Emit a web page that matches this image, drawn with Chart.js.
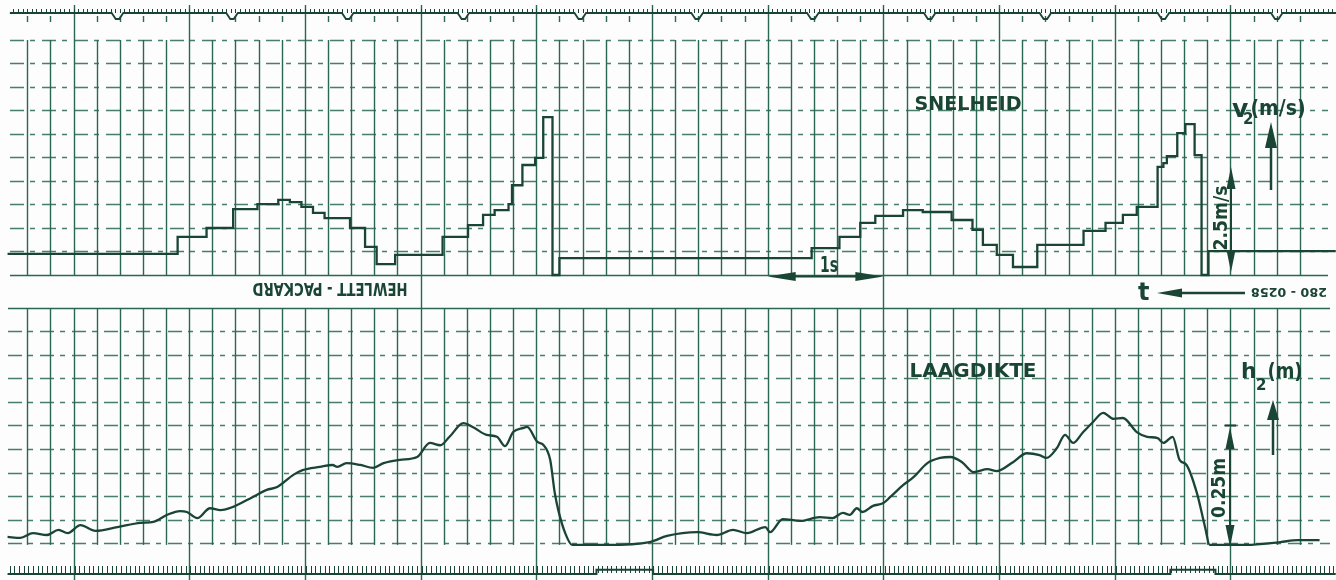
<!DOCTYPE html>
<html>
<head>
<meta charset="utf-8">
<title>Snelheid en laagdikte</title>
<script src="https://cdn.jsdelivr.net/npm/chart.js@4.4.1/dist/chart.umd.min.js"></script>
<style>
  html, body { margin: 0; padding: 0; background: #fcfdfc; }
  canvas { position: absolute; left: 0; }
  #speedChart { top: 0; }
  #depthChart { top: 300px; }
</style>
</head>
<body>
<canvas id="speedChart" width="1336" height="300"></canvas>
<canvas id="depthChart" width="1336" height="280"></canvas>
<script>
// time in seconds (1 major division = 1 s)
const speedTimes = [-0.57, 0.90, 1.15, 1.38, 1.59, 1.77, 1.87, 1.97, 2.07, 2.17,
  2.39, 2.52, 2.62, 2.78, 3.19, 3.41, 3.54, 3.64, 3.76, 3.79,
  3.88, 3.99, 4.06, 4.14, 4.20, 6.38, 6.62, 6.80, 6.93, 7.17,
  7.34, 7.59, 7.77, 7.86, 7.98, 8.12, 8.33, 8.73, 8.92, 9.07,
  9.19, 9.37, 9.42, 9.45, 9.54, 9.61, 9.69, 9.75, 9.81, 10.91];
// v2 in m/s
const speedValues = [0.45, 0.81, 1.00, 1.40, 1.51, 1.60, 1.55, 1.45, 1.32, 1.21,
  1.00, 0.60, 0.23, 0.43, 0.81, 1.06, 1.28, 1.38, 1.51, 1.91,
  2.34, 2.49, 3.36, 0.00, 0.36, 0.57, 0.81, 1.11, 1.26, 1.38,
  1.34, 1.17, 0.96, 0.64, 0.43, 0.17, 0.64, 0.94, 1.11, 1.28,
  1.45, 2.30, 2.38, 2.53, 3.02, 3.21, 2.55, 0.00, 0.51, 0.51];

const depthTimes = [-0.57, -0.46, -0.35, -0.23, -0.13, -0.05, 0.06, 0.19, 0.38, 0.58,
  0.69, 0.81, 0.92, 0.98, 1.07, 1.18, 1.27, 1.38, 1.55, 1.67,
  1.76, 1.90, 1.98, 2.13, 2.24, 2.28, 2.36, 2.48, 2.59, 2.68,
  2.82, 2.97, 3.08, 3.17, 3.25, 3.37, 3.45, 3.57, 3.66, 3.73,
  3.80, 3.89, 3.92, 4.01, 4.06, 4.12, 4.16, 4.19, 4.25, 4.31,
  4.61, 4.98, 5.13, 5.39, 5.56, 5.70, 5.82, 5.98, 6.02, 6.13,
  6.28, 6.45, 6.56, 6.65, 6.71, 6.77, 6.82, 6.91, 7.00, 7.06,
  7.17, 7.26, 7.38, 7.49, 7.58, 7.68, 7.78, 7.90, 7.98, 8.12,
  8.24, 8.35, 8.41, 8.50, 8.57, 8.64, 8.72, 8.81, 8.90, 8.99,
  9.07, 9.19, 9.28, 9.37, 9.42, 9.50, 9.56, 9.62, 9.71, 9.78,
  9.82, 10.14, 10.43, 10.58, 10.77];
// h2 in m
const depthValues = [0.013, 0.011, 0.021, 0.017, 0.028, 0.021, 0.038, 0.026, 0.034, 0.043,
  0.045, 0.060, 0.068, 0.066, 0.053, 0.074, 0.070, 0.077, 0.098, 0.113,
  0.119, 0.145, 0.155, 0.162, 0.166, 0.162, 0.170, 0.166, 0.160, 0.170,
  0.177, 0.183, 0.213, 0.208, 0.226, 0.255, 0.247, 0.230, 0.226, 0.206,
  0.236, 0.245, 0.247, 0.215, 0.209, 0.177, 0.106, 0.070, 0.021, -0.004,
  -0.004, 0.002, 0.015, 0.023, 0.017, 0.028, 0.021, 0.034, 0.023, 0.051,
  0.047, 0.055, 0.053, 0.064, 0.060, 0.074, 0.066, 0.079, 0.085, 0.098,
  0.123, 0.140, 0.170, 0.181, 0.183, 0.172, 0.151, 0.157, 0.153, 0.172,
  0.191, 0.187, 0.181, 0.202, 0.230, 0.213, 0.234, 0.257, 0.277, 0.264,
  0.266, 0.236, 0.226, 0.223, 0.213, 0.226, 0.177, 0.166, 0.106, 0.034,
  -0.004, -0.004, 0.002, 0.006, 0.006];

// second pulses on the timing pen at the top edge
const pulseTimes = [0.38, 1.37, 2.37, 3.37, 4.38, 5.39, 6.39, 7.40, 8.40, 9.42, 10.40];
const timingLevel = 5.574;
const timingDip = 5.447;

// event marker pen at the bottom edge
const markerTimes = [-0.57, 4.52, 5.01, 9.48, 9.87, 10.91];
const markerValues = [-0.066, -0.057, -0.066, -0.057, -0.066, -0.066];

const X_MIN = -0.6353, X_MAX = 10.912;
const ink = '#1a4535';
const gridInk = '#2a6752';
const dashInk = 'rgba(40,104,82,0.85)';

function xy(times, values) {
  return times.map((t, i) => ({ x: t, y: values[i] }));
}

let timingPoints = [{ x: -0.55, y: timingLevel }];
pulseTimes.forEach((t) => {
  timingPoints.push({ x: t - 0.05, y: timingLevel }, { x: t - 0.015, y: timingDip },
    { x: t + 0.015, y: timingDip }, { x: t + 0.05, y: timingLevel });
});
timingPoints.push({ x: X_MAX, y: timingLevel });

function line(ctx, x1, y1, x2, y2) {
  ctx.beginPath();
  ctx.moveTo(x1, y1);
  ctx.lineTo(x2, y2);
  ctx.stroke();
}

function head(ctx, tx, ty, dx, dy, len, half) {
  let bx = tx - dx * len, by = ty - dy * len;
  ctx.beginPath();
  ctx.moveTo(tx, ty);
  ctx.lineTo(bx - dy * half, by + dx * half);
  ctx.lineTo(bx + dy * half, by - dx * half);
  ctx.closePath();
  ctx.fill();
}

// text squeezed to the width it has on the paper
function fitText(ctx, text, cx, cy, w, size, angle, weight) {
  ctx.save();
  ctx.translate(cx, cy);
  ctx.rotate(angle || 0);
  ctx.font = (weight || 'bold') + ' ' + size + 'px "DejaVu Sans"';
  let m = ctx.measureText(text);
  ctx.scale(w / m.width, 1);
  ctx.textAlign = 'center';
  ctx.textBaseline = 'alphabetic';
  ctx.fillText(text, 0, size * 0.365);
  ctx.restore();
}

function leftText(ctx, text, x, baseY, size, weight) {
  ctx.font = (weight || 'bold') + ' ' + size + 'px "DejaVu Sans"';
  ctx.textAlign = 'left';
  ctx.textBaseline = 'alphabetic';
  ctx.fillText(text, x, baseY);
}

function drawVerticals(ctx, xs, top, bottom, majorTop, majorBottom, longTop, longBottom, stubs) {
  ctx.save();
  ctx.strokeStyle = gridInk;
  ctx.lineWidth = 1.4;
  for (let i = -2; i <= 53; i++) {
    let t = i * 0.2;
    let px = Math.round(xs.getPixelForValue(t)) + 0.5;
    if (i % 5 === 0) {
      let long = (i === 15 || i === 35);
      line(ctx, px, long ? longTop : majorTop, px, long ? longBottom : majorBottom);
    } else {
      line(ctx, px, top, px, bottom);
      if (stubs) line(ctx, px, stubs[0], px, stubs[1]);
    }
  }
  ctx.restore();
}

function drawHorizontals(ctx, ys, values, solidValue, x1, x2) {
  ctx.save();
  values.forEach((v) => {
    let py = Math.round(ys.getPixelForValue(v)) + 0.5;
    if (v === solidValue) {
      ctx.setLineDash([]);
      ctx.strokeStyle = gridInk;
      ctx.lineWidth = 1.5;
    } else {
      ctx.setLineDash([14, 6, 5, 7]);
      ctx.strokeStyle = dashInk;
      ctx.lineWidth = 1.6;
    }
    line(ctx, x1, py, x2, py);
  });
  ctx.restore();
}

function teeth(ctx, xs, from, to, step, y1, y2) {
  ctx.save();
  ctx.strokeStyle = ink;
  ctx.lineWidth = 1;
  for (let t = from; t <= to; t += step) {
    let px = Math.round(xs.getPixelForValue(t)) + 0.5;
    line(ctx, px, y1, px, y2);
  }
  ctx.restore();
}

const speedPaper = {
  id: 'speedPaper',
  beforeDatasetsDraw(chart) {
    const ctx = chart.ctx, xs = chart.scales.x, ys = chart.scales.y;
    let top = ys.getPixelForValue(5), bottom = ys.getPixelForValue(0);
    drawHorizontals(ctx, ys, [0, 0.5, 1, 1.5, 2, 2.5, 3, 3.5, 4, 4.5, 5], 0, 10, 1328);
    drawVerticals(ctx, xs, top, bottom, 5, bottom, 5, 300, [16, 22]);
    teeth(ctx, xs, -0.52, 10.9, 0.04, 9, 13);
  },
  afterDraw(chart) {
    const ctx = chart.ctx, xs = chart.scales.x;
    ctx.save();
    ctx.fillStyle = ink;
    ctx.strokeStyle = ink;
    fitText(ctx, 'SNELHEID', 968, 103, 107, 19);
    leftText(ctx, 'v', 1232, 117, 25);
    leftText(ctx, '2', 1243, 124, 15);
    fitText(ctx, '(m/s)', 1278, 107, 55, 22);
    // direction arrow for v2
    ctx.lineWidth = 2.5;
    line(ctx, 1271, 145, 1271, 190);
    head(ctx, 1271, 122, 0, -1, 26, 6);
    // 2.5 m/s calibration
    ctx.lineWidth = 2;
    line(ctx, 1231, 185, 1231, 255);
    head(ctx, 1231, 167, 0, -1, 22, 4.5);
    head(ctx, 1231, 272, 0, 1, 22, 4.5);
    fitText(ctx, '2.5m/s', 1220, 218, 65, 20, -Math.PI / 2);
    // 1 s span
    let a = xs.getPixelForValue(6), b = xs.getPixelForValue(7);
    line(ctx, a + 20, 276.5, b - 20, 276.5);
    head(ctx, a, 276.5, -1, 0, 28, 4.5);
    head(ctx, b, 276.5, 1, 0, 28, 4.5);
    fitText(ctx, '1s', 829, 264, 18, 21);
    // band printing
    fitText(ctx, 'HEWLETT - PACKARD', 330, 289.5, 155, 17, Math.PI);
    fitText(ctx, '280 - 0258', 1289, 293, 76, 13, Math.PI);
    leftText(ctx, 't', 1138, 300, 24);
    ctx.lineWidth = 2.5;
    line(ctx, 1178, 293, 1245, 293);
    head(ctx, 1157, 293, -1, 0, 25, 4.5);
    ctx.restore();
  }
};

const depthPaper = {
  id: 'depthPaper',
  beforeDatasetsDraw(chart) {
    const ctx = chart.ctx, xs = chart.scales.x, ys = chart.scales.y;
    let top = ys.getPixelForValue(0.5), bottom = ys.getPixelForValue(-0.004);
    drawHorizontals(ctx, ys, [0, 0.05, 0.1, 0.15, 0.2, 0.25, 0.3, 0.35, 0.4, 0.45, 0.5], 0.5, 8, 1330);
    drawVerticals(ctx, xs, top, bottom, top, 280, 0, 280, null);
    teeth(ctx, xs, -0.55, 10.9, 0.04, 266, 273);
  },
  afterDraw(chart) {
    const ctx = chart.ctx;
    ctx.save();
    ctx.fillStyle = ink;
    ctx.strokeStyle = ink;
    fitText(ctx, 'LAAGDIKTE', 973, 70, 127, 19);
    leftText(ctx, 'h', 1241, 78, 22);
    leftText(ctx, '2', 1256, 90, 15);
    fitText(ctx, '(m)', 1285, 70, 35, 22);
    ctx.lineWidth = 2.5;
    line(ctx, 1273, 118, 1273, 155);
    head(ctx, 1273, 100, 0, -1, 20, 6);
    // 0.25 m calibration
    ctx.lineWidth = 2;
    line(ctx, 1225, 125.5, 1236, 125.5);
    line(ctx, 1230, 140, 1230, 230);
    head(ctx, 1230, 127, 0, -1, 22, 4.5);
    head(ctx, 1230, 247, 0, 1, 22, 4.5);
    fitText(ctx, '0.25m', 1218, 188, 60, 20, -Math.PI / 2);
    ctx.restore();
  }
};

const baseOptions = (yMin, yMax) => ({
  responsive: false,
  animation: false,
  events: [],
  layout: { padding: 0 },
  plugins: { legend: { display: false }, tooltip: { enabled: false } },
  scales: {
    x: { type: 'linear', min: X_MIN, max: X_MAX, display: false },
    y: { type: 'linear', min: yMin, max: yMax, display: false }
  }
});

const speedChart = new Chart(document.getElementById('speedChart'), {
  type: 'line',
  data: {
    datasets: [
      { label: 'v2 (m/s)', data: xy(speedTimes, speedValues), stepped: true,
        borderColor: ink, borderWidth: 2.3, pointRadius: 0 },
      { label: 'timing', data: timingPoints, borderColor: ink, borderWidth: 1.8,
        pointRadius: 0, tension: 0 }
    ]
  },
  options: baseOptions(-0.532, 5.851),
  plugins: [speedPaper]
});

const depthChart = new Chart(document.getElementById('depthChart'), {
  type: 'line',
  data: {
    datasets: [
      { label: 'h2 (m)', data: xy(depthTimes, depthValues), borderColor: ink,
        borderWidth: 2.3, pointRadius: 0, cubicInterpolationMode: 'monotone' },
      { label: 'marker', data: xy(markerTimes, markerValues), stepped: true,
        borderColor: ink, borderWidth: 2, pointRadius: 0 }
    ]
  },
  options: baseOptions(-0.0787, 0.5170),
  plugins: [depthPaper]
});
</script>
</body>
</html>
